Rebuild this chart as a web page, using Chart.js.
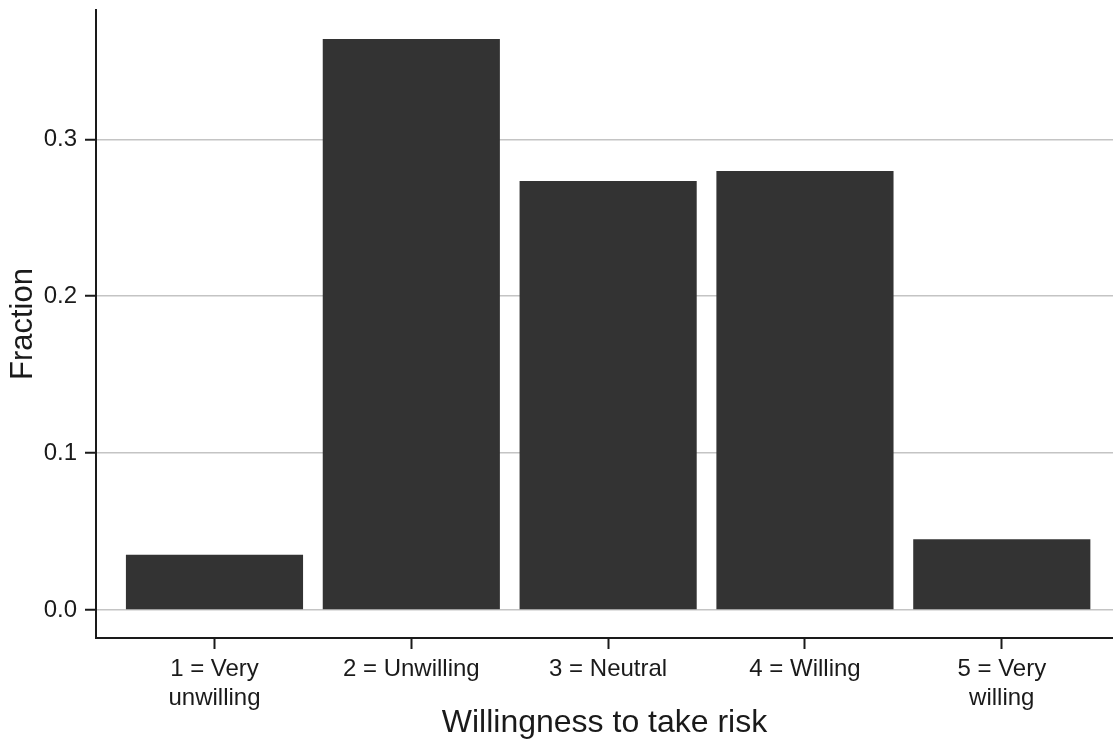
<!DOCTYPE html>
<html>
<head>
<meta charset="utf-8">
<script src="https://cdn.jsdelivr.net/npm/chart.js@4/dist/chart.umd.min.js"></script>
<style>
  html, body { margin: 0; padding: 0; background: #ffffff; }
  #wrap { width: 1113px; height: 743px; position: relative; }
</style>
</head>
<body>
<div id="wrap"><canvas id="c" width="1113" height="743"></canvas></div>
<script>
const categories = [1, 2, 3, 4, 5];
const categoryLabels = [["1 = Very", "unwilling"], "2 = Unwilling", "3 = Neutral", "4 = Willing", ["5 = Very", "willing"]];
const fractions = [0.0351, 0.3639, 0.2734, 0.2798, 0.0451];
const yTicks = [0.0, 0.1, 0.2, 0.3];
const xTitle = "Willingness to take risk";
const yTitle = "Fraction";

const FONT = "'Liberation Sans', Arial, Helvetica, sans-serif";
const TXT = "#1a1a1a";

const points = categories.map((c, i) => ({ x: c, y: fractions[i] }));

new Chart(document.getElementById('c'), {
  type: 'bar',
  data: {
    datasets: [{
      data: points,
      backgroundColor: '#333333',
      borderWidth: 0,
      categoryPercentage: 0.9,
      barPercentage: 1.0
    }]
  },
  options: {
    responsive: false,
    animation: false,
    devicePixelRatio: 1,
    layout: { padding: { top: 10, right: 0, bottom: 0, left: 0 } },
    plugins: { legend: { display: false }, tooltip: { enabled: false } },
    scales: {
      x: {
        type: 'linear',
        offset: false,
        min: 0.398,
        max: 5.565,
        afterBuildTicks: (s) => { s.ticks = categories.map(v => ({ value: v })); },
        afterFit: (s) => { s.height = 105; s.paddingLeft = 0; s.paddingRight = 0; },
        grid: { offset: false, drawOnChartArea: false, drawTicks: true, tickLength: 11, tickColor: '#1a1a1a', tickWidth: 2 },
        border: { display: true, color: '#1a1a1a', width: 2 },
        ticks: {
          autoSkip: false,
          maxRotation: 0,
          padding: 6,
          color: TXT,
          font: { family: FONT, size: 24 },
          lineHeight: 1.15,
          callback: (v) => { const i = categories.indexOf(v); return i >= 0 ? categoryLabels[i] : ''; }
        },
        title: {
          display: true,
          text: xTitle,
          color: TXT,
          font: { family: FONT, size: 32 },
          padding: { top: 0, bottom: 1 }
        }
      },
      y: {
        min: -0.0179,
        max: 0.3824,
        afterBuildTicks: (s) => { s.ticks = yTicks.map(v => ({ value: v })); },
        afterFit: (s) => { s.width = 96; s.paddingTop = 0; s.paddingBottom = 0; },
        grid: { color: '#c4c4c4', lineWidth: 1.5, drawTicks: true, tickLength: 11, tickColor: '#1a1a1a', tickWidth: 2 },
        border: { display: true, color: '#1a1a1a', width: 2 },
        ticks: {
          padding: 8,
          color: TXT,
          font: { family: FONT, size: 24 },
          callback: (v) => v.toFixed(1)
        },
        title: {
          display: true,
          text: yTitle,
          color: TXT,
          font: { family: FONT, size: 31 },
          padding: { top: 5, bottom: 0 }
        }
      }
    }
  }
});
</script>
</body>
</html>
